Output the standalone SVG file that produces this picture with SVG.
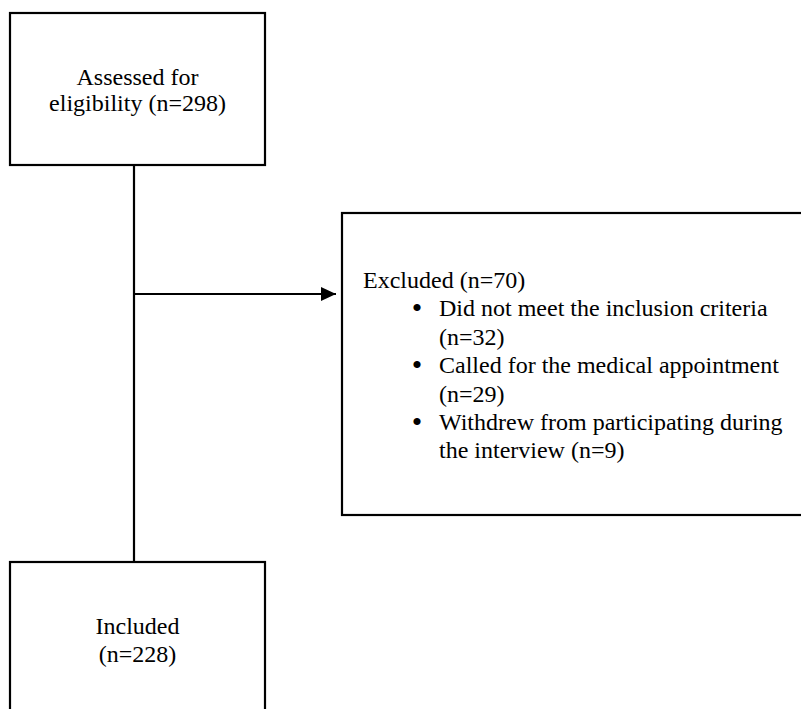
<svg xmlns="http://www.w3.org/2000/svg" width="801" height="709" viewBox="0 0 801 709">
<style>
.box{fill:#fff;stroke:#000;stroke-width:2.2}
text{font-family:'Liberation Serif','Times New Roman','DejaVu Serif',serif;font-size:24px;fill:#000}
.c{text-anchor:middle}
.b{font-size:30px}
.ln{stroke:#000;stroke-width:2.2;fill:none}
</style>
<defs>
<marker id="ah" markerUnits="userSpaceOnUse" markerWidth="16" markerHeight="14" refX="15" refY="7" orient="auto">
<path d="M0,0 L15,7 L0,14 Z" fill="#000"/>
</marker>
</defs>
<g id="connectors">
<line class="ln" x1="134" y1="165" x2="134" y2="562"/>
<line class="ln" x1="134" y1="294" x2="336" y2="294" marker-end="url(#ah)"/>
</g>
<g id="assessed">
<rect class="box" x="10" y="13" width="255" height="152"/>
<text class="c" x="137.5" y="85">Assessed for</text>
<text class="c" x="137.5" y="111">eligibility (n=298)</text>
</g>
<g id="excluded">
<rect class="box" x="342" y="213" width="480" height="302"/>
<text x="363" y="288">Excluded (n=70)</text>
<text class="c b" x="417" y="318">•</text>
<text x="439" y="316">Did not meet the inclusion criteria</text>
<text x="439" y="344.5">(n=32)</text>
<text class="c b" x="417" y="375">•</text>
<text x="439" y="373">Called for the medical appointment</text>
<text x="439" y="401.5">(n=29)</text>
<text class="c b" x="417" y="432">•</text>
<text x="439" y="430">Withdrew from participating during</text>
<text x="439" y="458">the interview (n=9)</text>
</g>
<g id="included">
<rect class="box" x="10" y="562" width="255" height="160"/>
<text class="c" x="137.5" y="634">Included</text>
<text class="c" x="137.5" y="661.5">(n=228)</text>
</g>
</svg>
